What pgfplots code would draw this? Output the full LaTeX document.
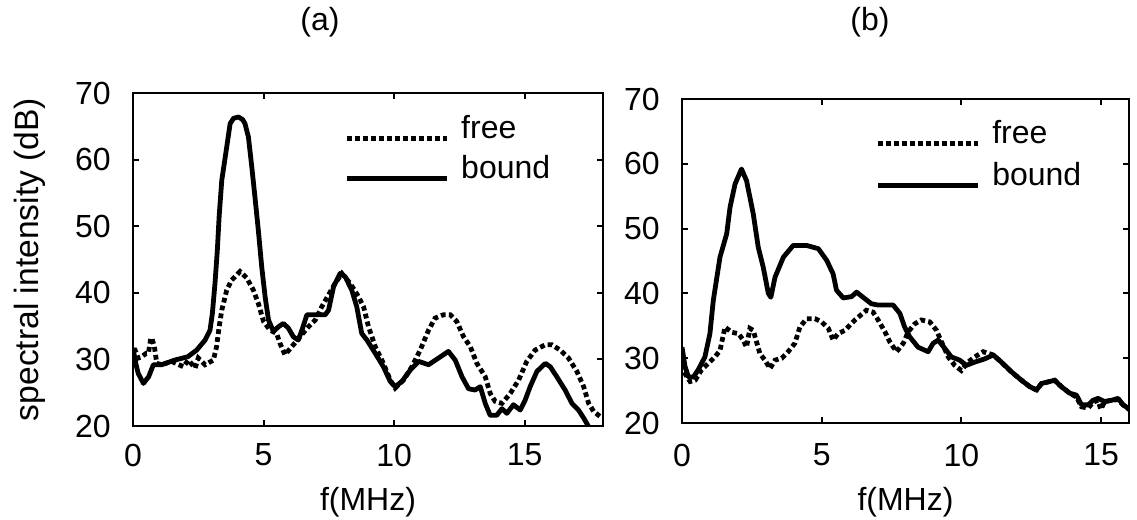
\documentclass[border=0pt]{standalone}
\usepackage{fontspec}
\setmainfont{Liberation Sans}
\usepackage{pgfplots}
\pgfplotsset{compat=1.18}

\newcommand{\fs}{\fontsize{16}{19}\selectfont}

\pgfplotsset{
  spec/.style={
    scale only axis,
    anchor=south west,
    axis line style={line width=1pt},
    every tick/.style={black, line width=1pt},
    major tick length=3pt,
    tick align=inside,
    xtick={0,5,10,15},
    ytick={20,30,40,50,60,70},
    ymin=20, ymax=70,
    /pgf/number format/assume math mode=true,
    tick label style={font=\fs},
    label style={font=\fs},
    xticklabel style={anchor=center, yshift=-14.5pt, inner sep=0pt},
    yticklabel style={anchor=east, xshift=-11pt, inner sep=0pt},
    xlabel style={at={(axis description cs:0.5,0)}, anchor=center, yshift=-38pt, inner sep=0pt},
    xlabel={f(MHz)},
    legend cell align=left,
    legend image code/.code={\draw[#1] (0pt,-4.65pt) -- (50pt,-4.65pt);},
  },
  free/.style={black, line width=2.4pt, dash pattern=on 2.4pt off 1.6pt},
  bound/.style={black, line width=2.4pt, line join=round},
}

\begin{document}
\begin{tikzpicture}
\useasboundingbox (-66.5pt,-47pt) rectangle (502pt,213pt);

\node[font=\fs] at (93.5pt,202pt) {(a)};
\node[font=\fs] at (368.5pt,202pt) {(b)};

\begin{axis}[spec,
  at={(0pt,0pt)},
  width=235pt, height=166.5pt,
  xmin=0, xmax=18,
  ylabel={spectral intensity (dB)},
  ylabel style={at={(axis description cs:-0.219,0.5)}, anchor=center, inner sep=0pt,
    font=\fontsize{16.8}{20}\selectfont},
  legend style={draw=none, fill=none, inner sep=0pt, at={(axis description cs:0.449,0.7316)},
    anchor=south west, font=\fs, row sep=6.9pt, column sep=6pt, nodes={inner sep=0pt}},
]
\addplot[free] coordinates {
(0,31.4) (0.08,31.4) (0.2,30.2) (0.33,30.4) (0.5,30.9) (0.59,30.9) (0.68,33.2) (0.72,33.2)
(0.82,31.9) (0.91,29.4) (1.1,29.2) (1.48,29.7) (1.93,28.9) (2.12,29.9) (2.38,28.7) (2.5,30.2)
(2.76,29.2) (3.08,29.9) (3.2,31.9) (3.3,34.9) (3.4,37.4) (3.59,40.4) (3.78,41.9) (4.1,43.2)
(4.36,42.2) (4.61,40.4) (4.8,38.4) (5.0,35.7) (5.25,34.4) (5.5,33.9) (5.63,32.4) (5.82,30.7)
(6.08,31.9) (6.46,33.7) (6.72,34.9) (6.98,35.9) (7.23,37.9) (7.49,39.7) (7.74,41.4) (8.0,42.9)
(8.32,41.4) (8.64,39.4) (8.83,37.9) (9.02,34.9) (9.28,31.9) (9.59,29.4) (9.85,26.9) (10.04,25.7)
(10.36,26.9) (10.68,28.9) (11.0,31.4) (11.32,34.4) (11.57,36.2) (11.89,36.7) (12.15,36.7)
(12.4,35.7) (12.66,33.4) (12.92,31.9) (13.17,29.4) (13.49,27.4) (13.68,24.9) (13.87,23.7)
(14.13,23.4) (14.45,24.9) (14.77,26.9) (15.08,29.7) (15.4,31.4) (15.79,32.2) (16.04,32.2)
(16.36,31.4) (16.68,30.2) (17.0,28.2) (17.26,25.9) (17.45,23.4) (17.64,22.2) (17.96,21.2)
};
\addlegendentry{free}
\addplot[bound] coordinates {
(0,31.7) (0.1,29.5) (0.2,27.9) (0.4,26.4) (0.6,27.4) (0.78,29.2) (1.1,29.2) (1.6,29.9)
(2.1,30.4) (2.44,31.4) (2.76,32.9) (2.95,34.4) (3.04,36.9) (3.14,41.4) (3.23,46.4) (3.3,51.5)
(3.4,56.9) (3.59,61.9) (3.72,65.4) (3.85,66.2) (4.04,66.4) (4.2,66) (4.29,65.4) (4.42,63.4)
(4.55,58.9) (4.67,54.4) (4.8,49.4) (4.93,43.9) (5.06,39.4) (5.19,35.9) (5.38,34.2) (5.57,34.9)
(5.76,35.4) (5.95,34.7) (6.14,33.4) (6.33,32.9) (6.47,34.4) (6.66,36.7) (6.98,36.7) (7.36,36.7)
(7.49,37.4) (7.68,40.9) (7.93,42.9) (8.13,42.4) (8.38,40.4) (8.57,37.9) (8.76,33.9) (8.96,32.9)
(9.28,30.9) (9.59,28.9) (9.85,26.7) (10.04,25.9) (10.3,26.7) (10.62,28.4) (10.94,29.7)
(11.32,29.2) (11.7,30.2) (12.08,31.2) (12.34,29.9) (12.6,27.4) (12.85,25.6) (13.1,25.4)
(13.3,25.9) (13.49,23.4) (13.68,21.6) (13.93,21.6) (14.13,22.6) (14.32,21.9) (14.57,23.2)
(14.83,22.4) (15.02,23.9) (15.21,25.9) (15.47,28.2) (15.79,29.4) (15.98,28.9) (16.23,27.4)
(16.55,25.4) (16.81,23.4) (17.06,22.4) (17.26,21.2) (17.45,19.9)
};
\addlegendentry{bound}
\end{axis}

\begin{axis}[spec,
  at={(274.5pt,1.5pt)},
  width=223.5pt, height=162pt,
  xmin=0, xmax=16,
  xlabel style={yshift=-1.5pt},
  xticklabel style={yshift=-1.5pt},
  legend style={draw=none, fill=none, inner sep=0pt, at={(axis description cs:0.432,0.7212)},
    anchor=south west, font=\fs, row sep=7.9pt, column sep=6pt, nodes={inner sep=0pt}},
]
\addplot[free] coordinates {
(0,29) (0.11,27.6) (0.29,26.4) (0.47,26.6) (0.7,28.2) (0.94,29.2) (1.18,30.2) (1.36,31.2)
(1.54,34.8) (1.78,34.0) (2.02,33.8) (2.19,32.8) (2.31,31.7) (2.43,34.6) (2.55,34.3) (2.79,30.7)
(2.97,29.7) (3.15,28.4) (3.33,29.7) (3.57,30.0) (3.8,31.0) (4.04,32.3) (4.22,34.8) (4.46,36.1)
(4.76,36.1) (5.0,35.6) (5.24,34.6) (5.41,32.8) (5.59,33.8) (5.83,34.3) (6.19,35.9) (6.6,37.4)
(6.84,37.1) (7.02,35.9) (7.26,34.1) (7.44,32.5) (7.68,31.0) (7.92,32.3) (8.1,34.1) (8.33,35.3)
(8.57,35.9) (8.87,35.6) (9.11,34.3) (9.29,32.5) (9.53,30.2) (9.76,28.9) (10.0,28.1) (10.24,29.4)
(10.48,30.2) (10.78,31.0) (11.14,30.5) (11.43,29.4) (11.79,27.9) (12.15,26.6) (12.45,25.6)
(12.69,25.1) (12.87,26.1) (13.16,26.4) (13.34,26.6) (13.58,25.6) (13.88,24.6) (14.12,24.0)
(14.3,22.5) (14.54,22.3) (14.71,23.2) (14.89,23.5) (14.99,22.1) (15.13,23.3) (15.37,23.5)
(15.61,23.6) (15.79,22.8) (16.03,22.0)
};
\addlegendentry{free}
\addplot[bound] coordinates {
(0,31.7) (0.11,28.7) (0.23,27.1) (0.41,27.1) (0.58,28.2) (0.82,30.2) (1.0,33.8) (1.12,38.9)
(1.36,45.6) (1.6,49.2) (1.72,53.3) (1.9,56.9) (2.13,59.2) (2.31,57.4) (2.55,52.3) (2.73,47.1)
(2.91,44.0) (3.09,40.0) (3.18,39.4) (3.33,42.5) (3.63,45.6) (3.98,47.4) (4.46,47.4) (4.88,46.9)
(5.18,45.1) (5.41,43.0) (5.53,40.5) (5.77,39.3) (6.07,39.5) (6.25,40.2) (6.48,39.4) (6.78,38.4)
(7.02,38.2) (7.56,38.2) (7.8,36.9) (7.97,34.8) (8.15,33.3) (8.45,31.7) (8.81,31.0) (8.99,32.3)
(9.17,32.8) (9.41,31.5) (9.64,30.2) (9.94,29.7) (10.18,28.9) (10.48,29.4) (10.84,29.9)
(11.14,30.5) (11.43,29.4) (11.79,27.9) (12.15,26.6) (12.45,25.6) (12.69,25.1) (12.87,26.1)
(13.16,26.4) (13.34,26.6) (13.58,25.6) (13.88,24.6) (14.12,24.3) (14.3,22.8) (14.54,22.8)
(14.71,23.5) (14.89,23.8) (15.13,23.3) (15.37,23.5) (15.61,23.8) (15.79,22.8) (16.03,22.1)
};
\addlegendentry{bound}
\end{axis}
\end{tikzpicture}
\end{document}
